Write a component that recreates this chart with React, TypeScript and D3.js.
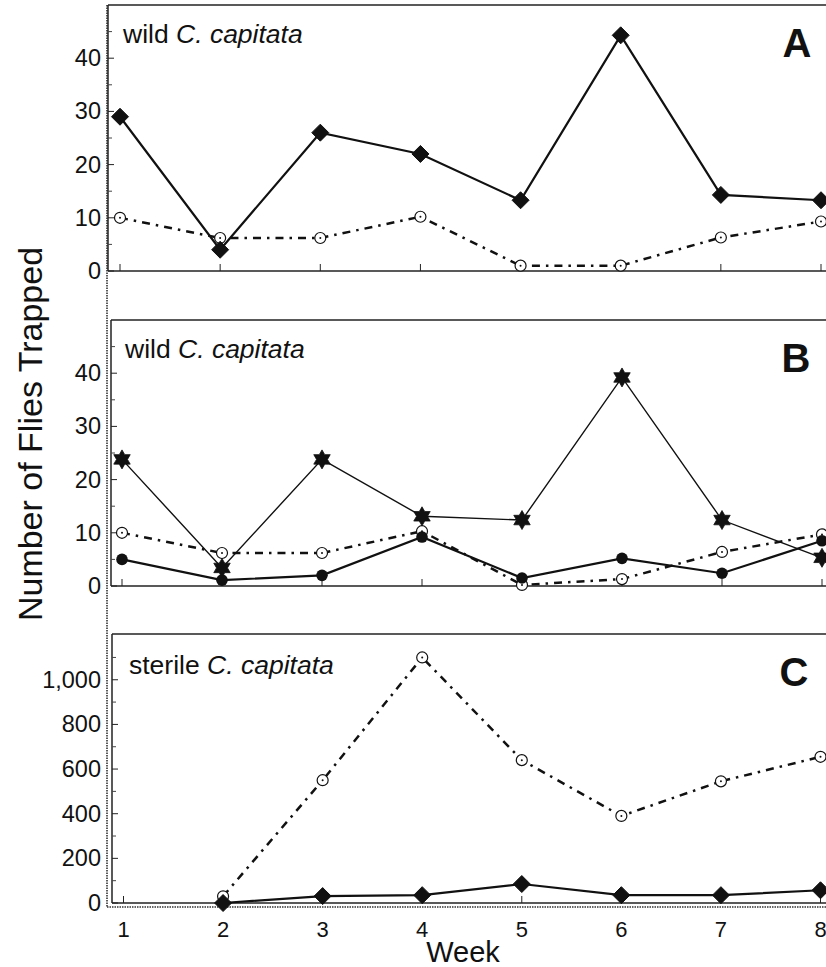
import React from "react";
import * as d3 from "d3";

const weeks = [1, 2, 3, 4, 5, 6, 7, 8];
const aDiamond = [29, 4, 26, 22, 13.3, 44.3, 14.3, 13.3];
const aCircle = [10, 6.2, 6.2, 10.2, 1, 1, 6.3, 9.3];
const bStar = [23.8, 3.4, 23.8, 13.1, 12.4, 39.2, 12.4, 5.3];
const bCircle = [10, 6.2, 6.2, 10.3, 0.2, 1.3, 6.4, 9.7];
const bDot = [5, 1.1, 2, 9.2, 1.5, 5.2, 2.4, 8.5];
const cCircle: (number | null)[] = [null, 30, 550, 1100, 640, 390, 545, 655];
const cDiamond: (number | null)[] = [null, 0, 31, 35, 85, 35, 35, 57];
const wildTicks = [0, 10, 20, 30, 40];
const wildMinor = [5, 15, 25, 35, 45];
const sterileTicks = [0, 200, 400, 600, 800, 1000];
const sterileMinor = [100, 300, 500, 700, 900, 1100];

const FONT = "'Liberation Sans', Arial, Helvetica, sans-serif";
const DASHDOT = "8,6,2.5,6";

type Panel = {
  key: string;
  left: number;
  top: number;
  bottom: number;
  x1: number;
  x8: number;
  yMax: number;
  ticks: number[];
  minor: number[];
  title: string;
  titleX: number;
  titleY: number;
  letter: string;
  letterX: number;
  letterY: number;
};

const panels: Panel[] = [
  { key: "A", left: 108, top: 5, bottom: 271, x1: 120, x8: 821, yMax: 50, ticks: wildTicks, minor: wildMinor, title: "wild ", titleX: 123, titleY: 43, letter: "A", letterX: 797, letterY: 57 },
  { key: "B", left: 111, top: 320, bottom: 586, x1: 122, x8: 822, yMax: 50, ticks: wildTicks, minor: wildMinor, title: "wild ", titleX: 125, titleY: 358, letter: "B", letterX: 796, letterY: 372 },
  { key: "C", left: 112, top: 634, bottom: 903, x1: 123.5, x8: 820.5, yMax: 1205, ticks: sterileTicks, minor: sterileMinor, title: "sterile ", titleX: 129, titleY: 674, letter: "C", letterX: 794, letterY: 686 },
];

function starPath(R: number) {
  const r = R / Math.sqrt(3);
  const pts: string[] = [];
  for (let i = 0; i < 12; i++) {
    const a = -Math.PI / 2 + (i * Math.PI) / 6;
    const rr = i % 2 === 0 ? R : r;
    pts.push(`${(rr * Math.cos(a)).toFixed(2)},${(rr * Math.sin(a)).toFixed(2)}`);
  }
  return "M" + pts.join("L") + "Z";
}

function Diamond({ x, y }: { x: number; y: number }) {
  const s = 8.5;
  return <path d={`M${x},${y - s}L${x + s},${y}L${x},${y + s}L${x - s},${y}Z`} fill="#111" stroke="#111" strokeWidth={1} />;
}
function OpenCircle({ x, y }: { x: number; y: number }) {
  return (
    <g>
      <circle cx={x} cy={y} r={5.5} fill="white" stroke="#111" strokeWidth={1.2} />
      <circle cx={x} cy={y} r={1} fill="#111" />
    </g>
  );
}
function Dot({ x, y }: { x: number; y: number }) {
  return <circle cx={x} cy={y} r={5.8} fill="#111" />;
}
function Star({ x, y }: { x: number; y: number }) {
  return <path d={starPath(9.5)} transform={`translate(${x},${y})`} fill="#111" stroke="#111" strokeWidth={0.8} />;
}

type Series = { values: (number | null)[]; marker: string; dash?: string; width: number };

function PanelView({ p, series }: { p: Panel; series: Series[] }) {
  const x = d3.scaleLinear().domain([1, 8]).range([p.x1, p.x8]);
  const y = d3.scaleLinear().domain([0, p.yMax]).range([p.bottom, p.top]);
  const fmt = d3.format(",");
  const line = d3
    .line<number | null>()
    .defined((d) => d !== null)
    .x((_, i) => x(weeks[i]))
    .y((d) => y(d as number));
  return (
    <g>
      <line x1={p.left} x2={840} y1={p.top} y2={p.top} stroke="#222" strokeWidth={1.5} />
      <line x1={p.left} x2={p.left} y1={p.top} y2={p.bottom} stroke="#222" strokeWidth={1.5} />
      <line x1={p.left} x2={840} y1={p.bottom} y2={p.bottom} stroke="#222" strokeWidth={1.5} />
      {p.ticks.map((t) => (
        <g key={"t" + t}>
          <line x1={p.left} x2={p.left + 6} y1={y(t)} y2={y(t)} stroke="#222" strokeWidth={1} />
          <text x={101} y={y(t) + 8} textAnchor="end" fontSize={23.5} fontFamily={FONT} fill="#111">
            {fmt(t)}
          </text>
        </g>
      ))}
      {p.minor.map((t) => (
        <line key={"m" + t} x1={p.left} x2={p.left + 4} y1={y(t)} y2={y(t)} stroke="#444" strokeWidth={1} />
      ))}
      {weeks.map((w) => (
        <line key={"x" + w} x1={x(w)} x2={x(w)} y1={p.bottom} y2={p.bottom - 7} stroke="#222" strokeWidth={1} />
      ))}
      <text x={p.titleX} y={p.titleY} fontSize={26.5} fontFamily={FONT} fill="#111">
        {p.title}
        <tspan fontStyle="italic">C. capitata</tspan>
      </text>
      <text x={p.letterX} y={p.letterY} textAnchor="middle" fontSize={40} fontWeight="bold" fontFamily={FONT} fill="#111">
        {p.letter}
      </text>
      {series.map((s, si) => (
        <path key={"l" + si} d={line(s.values) || ""} fill="none" stroke="#111" strokeWidth={s.width} strokeDasharray={s.dash} />
      ))}
      {series.map((s, si) =>
        s.values.map((v, i) => {
          if (v === null) return null;
          const cx = x(weeks[i]);
          const cy = y(v);
          const k = `${si}-${i}`;
          if (s.marker === "diamond") return <Diamond key={k} x={cx} y={cy} />;
          if (s.marker === "open") return <OpenCircle key={k} x={cx} y={cy} />;
          if (s.marker === "dot") return <Dot key={k} x={cx} y={cy} />;
          return <Star key={k} x={cx} y={cy} />;
        })
      )}
    </g>
  );
}

export default function App() {
  const pc = panels[2];
  const xc = d3.scaleLinear().domain([1, 8]).range([pc.x1, pc.x8]);
  return (
    <svg width={826} height={967} style={{ position: "absolute", left: 0, top: 0, background: "white" }}>
      <rect width={826} height={967} fill="white" />
      <line x1={107} x2={107} y1={5} y2={907} stroke="#333" strokeWidth={1.6} strokeDasharray="1.5,1" />
      <line x1={107} x2={840} y1={907} y2={907} stroke="#333" strokeWidth={1.6} strokeDasharray="1.5,1" />
      <PanelView
        p={panels[0]}
        series={[
          { values: aCircle, marker: "open", dash: DASHDOT, width: 2.5 },
          { values: aDiamond, marker: "diamond", width: 2.2 },
        ]}
      />
      <PanelView
        p={panels[1]}
        series={[
          { values: bCircle, marker: "open", dash: DASHDOT, width: 2.5 },
          { values: bDot, marker: "dot", width: 2.2 },
          { values: bStar, marker: "star", width: 1.4 },
        ]}
      />
      <PanelView
        p={panels[2]}
        series={[
          { values: cCircle, marker: "open", dash: DASHDOT, width: 2.5 },
          { values: cDiamond, marker: "diamond", width: 2.2 },
        ]}
      />
      {weeks.map((w) => (
        <text key={"wl" + w} x={xc(w)} y={937} textAnchor="middle" fontSize={22} fontFamily={FONT} fill="#111">
          {w}
        </text>
      ))}
      <text x={463} y={962} textAnchor="middle" fontSize={29} fontFamily={FONT} fill="#111">
        Week
      </text>
      <text transform="translate(42,434) rotate(-90)" textAnchor="middle" fontSize={34} fontFamily={FONT} fill="#111">
        Number of Flies Trapped
      </text>
    </svg>
  );
}
